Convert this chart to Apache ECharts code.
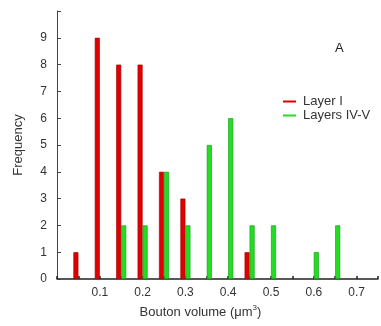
<!DOCTYPE html>
<html>
<head>
<meta charset="utf-8">
<script src="https://cdn.jsdelivr.net/npm/echarts@6/dist/echarts.min.js"></script>
<style>
    html, body { margin: 0; padding: 0; background: #fff; }
    #boutonChart { width: 381px; height: 326px; }
</style>
</head>
<body>
<div id="boutonChart"></div>
<script>
    // bin centres (um^3) and frequencies
    const layerIBins = [0.05, 0.1, 0.15, 0.2, 0.25, 0.3, 0.45]
    const layerIFreq = [1, 9, 8, 8, 4, 3, 1]
    const layersIVVBins = [0.15, 0.2, 0.25, 0.3, 0.35, 0.4, 0.45, 0.5, 0.6, 0.65]
    const layersIVVFreq = [2, 2, 4, 2, 5, 6, 2, 2, 1, 2]
    const xTickLabels = ['0.1', '0.2', '0.3', '0.4', '0.5', '0.6', '0.7']
    const yTickLabels = ['0', '1', '2', '3', '4', '5', '6', '7', '8', '9']

    const pairs = (xs, ys) => xs.map((x, i) => [x, ys[i]])
    const txt = '#333'

    const chart = echarts.init(document.getElementById('boutonChart'))
    chart.setOption({
        animation: false,
        textStyle: { fontFamily: 'Liberation Sans, Arial, sans-serif' },
        grid: { left: 57, right: -3, top: 11, bottom: 47, containLabel: false },
        legend: {
            orient: 'vertical',
            left: 278,
            top: 90,
            itemWidth: 13,
            itemHeight: 2,
            itemGap: 1,
            icon: 'rect',
            itemStyle: { borderWidth: 0 },
            textStyle: { fontSize: 13, color: txt, padding: [0, 0, 0, 2] },
            data: ['Layer I', 'Layers IV-V']
        },
        graphic: [{
            type: 'text',
            left: 335,
            top: 42,
            style: { text: 'A', fontSize: 13, fill: '#222', fontFamily: 'Liberation Sans, Arial, sans-serif' }
        }],
        xAxis: {
            type: 'value',
            min: 0,
            max: 0.75,
            interval: 0.05,
            name: 'Bouton volume (μm{sup|3})',
            nameLocation: 'middle',
            nameGap: 22,
            nameTextStyle: {
                fontSize: 13, color: txt,
                padding: [0, 34, 0, 0],
                rich: { sup: { fontSize: 8, color: txt, verticalAlign: 'top', padding: [0, 0, 9, 0] } }
            },
            axisLine: { lineStyle: { color: '#222', width: 1.5 } },
            axisTick: { inside: true, length: 3, lineStyle: { color: '#222', width: 1.5 } },
            splitLine: { show: false },
            axisLabel: {
                fontSize: 12, color: txt, margin: 8,
                formatter: v => {
                    const s = (Math.round(v * 100) / 100).toString()
                    return xTickLabels.indexOf(s) >= 0 ? s : ''
                }
            }
        },
        yAxis: {
            type: 'value',
            min: 0,
            max: 10,
            interval: 1,
            name: 'Frequency',
            nameLocation: 'middle',
            nameGap: 32,
            nameTextStyle: { fontSize: 13, color: txt },
            axisLine: { show: true, lineStyle: { color: '#444', width: 1 } },
            axisTick: { show: true, inside: true, length: 4, lineStyle: { color: '#444' } },
            splitLine: { show: false },
            axisLabel: {
                fontSize: 12, color: txt, margin: 10,
                formatter: v => yTickLabels.indexOf(String(v)) >= 0 ? String(v) : ''
            }
        },
        series: [
            {
                name: 'Layer I',
                type: 'bar',
                barWidth: 5,
                barGap: '0%',
                itemStyle: { color: '#e00000', borderColor: '#a00000', borderWidth: 0.6 },
                data: pairs(layerIBins, layerIFreq)
            },
            {
                name: 'Layers IV-V',
                type: 'bar',
                barWidth: 5,
                barGap: '0%',
                itemStyle: { color: '#22dd22', borderColor: '#119911', borderWidth: 0.6 },
                data: pairs(layersIVVBins, layersIVVFreq)
            }
        ]
    })
    window.addEventListener('resize', () => chart.resize())
</script>
</body>
</html>
